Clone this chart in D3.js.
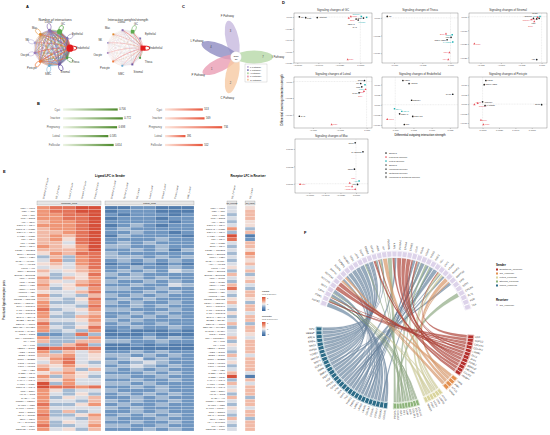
<!DOCTYPE html>
<html><head><meta charset="utf-8">
<script src="https://cdn.jsdelivr.net/npm/d3@7"></script>
<style>
body{margin:0;background:#fff;}
svg{font-family:"Liberation Sans",Arial,sans-serif;}
</style></head>
<body><div id="fig"></div>
<script>
// ---------- A: communication networks ----------
const cellTypes = ["GC","Epithelial","Endothelial","Theca","Stromal","SMC","Pericyte","Oocyte","NK","Mac","Luteal"];
const cellColors = ["#5dab4f","#7d74b3","#e31a1c","#4f9a4a","#6c59a6","#6aaed6","#f07a3a","#9b7bbf","#a79fcf","#e08a2c","#8a6fb5"];
const cellSizes = [2.6,1.3,3.6,1.4,1.4,1.3,1.3,1.1,1.1,1.3,1.4];
// number of interactions, one string per source cell (digits)
const countRows = ["65744353235","43533232124","56966454346","44645343235","45656353236",
  "34534343124","34545353235","21312121112","22323232222","34534343234","45645353345"];
// interaction strength, one string per source cell
const weightRows = ["31511111112","11311111111","42944232224","21511111112","21411211112",
  "11311111111","21311211111","10101011001","11211111111","11211111111","21411111112"];

// ---------- B: overall strength / count per condition ----------
const conditions = ["Cyst","Inactive","Pregnancy","Luteal","Follicular"];
const strengthValues = [0.706,0.772,0.698,0.585,0.654];
const countValues = [553,569,734,391,552];

// ---------- C: pathway petals ----------
const petalLabels = ["F Pathway","L Pathway","I Pathway","P Pathway","C Pathway"];
const petalCounts = [3,4,7,1,2];
const petalColors = ["#c7b9de","#8f8cc2","#b6d8a8","#ea9db4","#f6c9a3"];
const coreCount = 10;

// ---------- D: signaling changes (name, outgoing, incoming, group, shape) ----------
const gcPts = [["MK",-0.0058,0.0003,0,0],["PTN",-0.0052,-0.0012,0,0],["ANGPTL",-0.0041,-0.0010,0,0],
  ["WNT",-0.0009,0.0008,1,1],["BMP",-0.0011,-0.0020,1,1],["NOTCH",0.0001,0.0010,2,2],["EGF",0.0003,-0.0018,0,0],
  ["ncWNT",0.0006,-0.0006,2,2],["SEMA3",-0.0004,-0.0035,0,0],["GAS",-0.0002,-0.0052,0,0],["GDF",-0.0012,-0.0745,1,1]];
const thecaPts = [["MK",-0.0112,0.0004,0,0],["BMP",-0.0008,-0.0045,1,1],["TGFb",0.0003,-0.0048,2,2],
  ["FN1",0.0001,-0.0055,0,0],["COLLAGEN",-0.0006,-0.0062,0,0],["LAMININ",0.0004,-0.0068,2,2],
  ["GDF",-0.0002,-0.0098,1,1],["AMH",-0.0004,-0.0118,1,1]];
const stromalPts = [["SPP1",-0.0004,0.0002,2,2],["PDGF",-0.0010,-0.0004,1,1],["ANGPTL",-0.0020,-0.0012,0,0],
  ["CXCL",-0.0006,-0.0012,0,0],["FN1",-0.0012,-0.0016,0,0],["NOTCH",-0.0025,-0.0022,1,1],
  ["BMP",-0.0018,-0.0035,1,1],["WNT",-0.0165,-0.0200,1,1],["IGF",-0.0012,-0.0315,0,0]];
const lutealPts = [["SPP1",-0.0004,0.0003,0,0],["MK",-0.0011,-0.0006,0,0],["PTN",-0.0009,-0.0016,0,0],
  ["WNT",-0.0003,-0.0010,2,2],["BMP",-0.0002,-0.0024,1,1],["EGF",-0.0005,-0.0030,1,1],
  ["CXCL",-0.0014,-0.0034,0,0],["GAS",-0.0125,-0.0105,0,0],["GDF",-0.0065,-0.0130,1,1]];
const endoPts = [["VEGF",0.0021,0.0120,0,0],["ANGPT",0.0038,0.0105,0,0],["CXCL",0.0158,0.0052,0,0],
  ["NOTCH",0.0045,0.0022,0,0],["EPHA",-0.0002,-0.0020,2,2],["CDH5",0.0018,-0.0033,2,2],
  ["SEMA3",0.0012,-0.0045,0,0],["PECAM1",0.0048,-0.0058,0,0],["TGFb",-0.0022,-0.0072,1,1],["MIF",0.0025,-0.0098,0,0]];
const periPts = [["PDGF",0.0004,0.0125,0,0],["COLLAGEN",0.0002,0.0103,0,0],["ANGPTL",0.0000,0.0012,0,0],
  ["NOTCH",-0.0006,0.0004,1,1],["TGFb",-0.0010,-0.0002,1,1],["LAMININ",0.0003,-0.0008,0,0],
  ["SPP1",0.0072,-0.0003,0,0],["BMP",-0.0002,-0.0085,1,1],["WNT",0.0001,-0.0108,1,1]];
const macPts = [["SPP1",-0.0001,0.00118,0,0],["GALECTIN",0.0009,0.00092,0,0],["CD99",-0.0002,0.00042,0,0],
  ["APP",0.0004,0.00008,2,2],["MIF",0.0002,-0.00002,0,0],["CCL",-0.0008,0.00002,1,1],
  ["CXCL",-0.0005,-0.00008,1,1],["ANNEXIN",-0.0001,-0.00016,1,1],["TNF",-0.0072,-0.00002,1,1]];
const groupNames = ["Shared","Follicular specific","Luteal specific"];
const shapeNames = ["Shared","Incoming specific","Outgoing specific","Incoming & Outgoing specific"];

// ---------- E: prioritized ligand-receptor heatmap ----------
const lrPairs = ["MDK-LRP1","MDK-NCL","PTN-NCL","PTN-SDC2","APP-CD74","COL1A1-CD44","COL1A2-ITGB1","COL4A1-CD44",
  "LAMB1-ITGB1","FN1-CD44","FN1-ITGB1","SPP1-CD44","TGFB1-TGFBR2","BMP4-BMPR2","WNT4-FZD6","INHBA-ACVR2A",
  "AMH-AMHR2","KITLG-KIT","GDF9-BMPR2","BMP15-BMPR1B","IGF1-IGF1R","IGF2-IGF2R","VEGFA-KDR","VEGFA-FLT1",
  "ANGPT1-TEK","ANGPT2-TEK","PDGFB-PDGFRB","PDGFA-PDGFRA","DLL4-NOTCH1","JAG1-NOTCH2","JAG1-NOTCH3","EFNA1-EPHA2",
  "EFNB2-EPHB4","SEMA3A-NRP1","SEMA3C-PLXND1","CXCL12-CXCR4","CCL2-CCR2","TNF-TNFRSF1A","IL6-IL6R","LIF-LIFR",
  "HBEGF-EGFR","AREG-EGFR","EREG-EGFR","NRG1-ERBB3","FGF2-FGFR1","FGF7-FGFR2","HGF-MET","THBS1-CD47",
  "THBS2-CD36","LAMA4-ITGA6","LAMC1-ITGB4","COL6A3-ITGA1","TNC-SDC4","VCAN-TLR2","GAS6-AXL","PROS1-MERTK",
  "NAMPT-INSR","CALM1-PTPRA","GRN-SORT1","PSAP-GPR37","CD99-CD99","HLA-E-KLRC1","MIF-CD74","NECTIN2-TIGIT"];
const follicularCols = ["Endothelial_Follicular","GC_Follicular","Luteal_Follicular","Stromal_Follicular","Theca_Follicular"];
const lutealCols = ["Endothelial_Luteal","Epithelial_Luteal","GC_Luteal","Luteal_Luteal","Stromal_Luteal","Theca_Luteal","SMC_Luteal"];
const receiverCols = ["GC_Follicular","GC_Luteal"];
// LFC level per cell, digits 0 (strong down) .. 9 (strong up)
const follicularLFC = ["78899","78899","77889","77889","67789","77789","67789","66789","67689","67589","66489","76579",
  "66679","57688","36378","47378","56478","45468","64567","53458","73657","65467","74578","63547","54468","73436",
  "64358","73347","74438","83457","74346","73367","64457","83346","74358","73437","22383","73337","63366","33683",
  "98888","73646","66745","57845","46843","65754","74636","56754","73653","65744","93744","98878","75344","74353",
  "73546","74436","83357","74444","73634","83357","74436","73546","83347","74536"];
const lutealLFC = ["1122111","1222111","2122212","1222122","2222212","1232122","2322222","2232212","1322221","2222322",
  "2323222","3322322","2232313","3222222","3332323","2323232","1212121","2232232","2323243","3232222","2332322",
  "3223232","2232243","3322322","2223232","3232322","2323222","3232232","2232322","3322232","2232322","2323232",
  "3232222","2322322","2232232","1211121","1112111","2223232","3322322","1121211","1111111","2232322","3323232",
  "2342322","3234322","2343232","3232322","2223232","3322322","2232232","3323222","2232322","3222322","2323232",
  "2232322","3232232","2322322","3232222","2232322","2323232","3222322","2232232","3322322","2223232"];
const receptorLFC = ["45","46","36","46","35","45","73","36","91","82","46","36","45","37","46","35","46","54","36","63",
  "45","36","64","83","46","36","55","63","46","36","54","36","46","63","36","46","45","64","36","56","46","36","64",
  "46","56","36","46","64","91","36","64","46","56","36","63","46","36","54","46","36","63","46","36","46"];

// ---------- F: ligand-receptor circos ----------
const receptorGenes = ["FGFR2","ITGB1","CD44","SDC4","NOTCH2","NOTCH1","BMPR2","ACVR1","TGFBR1","TGFBR2","FZD6","LRP6",
  "EGFR","ERBB2","IGF1R","INSR","KIT","PDGFRA","NRP1","PLXNA2","EPHA4","EPHB2","CD47","ITGA6","ITGAV","ITGB5","SDC2",
  "NCL","LRP1","PTPRF","AMHR2","BMPR1B","LIFR","IL6ST","CXCR4","FLT1","KDR","TEK"];
const senderNames = ["Endothelial_Follicular","GC_Follicular","Luteal_Follicular","Stromal_Follicular","Theca_Follicular"];
const senderColors = ["#b5302c","#e3904f","#d9d49c","#8db47a","#2d6c88"];
const linkColors = ["#b24a3f","#d99a6c","#cfcc9a","#93ad88","#6f8aa3"];
const endoLigands = ["APP","HSPG2","COL4A1","COL4A2","LAMB1","DLL4","JAG1","EFNB2","SEMA3F","PECAM1","CALM2","IGFBP7"];
const endoTargets = [[28],[1],[1,2],[1,23],[1,23],[4,5],[4,5],[20,21],[18,19],[22],[14],[14,15]];
const gcLigands = ["INHA","AMH","KITLG","INHBA"];
const gcTargets = [[6],[30,31],[16],[7,6]];
const lutLigands = ["APOE","LAMA5","GRN","VCAN","PSAP","NAMPT"];
const lutTargets = [[28],[23,1],[29],[2],[28],[15]];
const stromLigands = ["COL1A1","COL1A2","COL3A1","DCN","LUM","FN1","IGF1","CXCL12","PDGFA"];
const stromTargets = [[1,2,3],[1,2],[1,26],[12],[1],[1,24,25],[14,15],[34],[17]];
const thecaLigands = ["COL6A1","COL6A2","COL6A3","COL5A1","COL5A2","LAMA2","LAMB2","LAMC1","THBS1","THBS2","TNC",
  "SPP1","MDK","PTN","GAS6","PROS1","HGF","FGF7","BMP4","BMP6","GDF15","WNT4","WNT5A","TGFB3","TGFB2","NRG1",
  "EREG","AREG","HBEGF","IGF2"];
const thecaTargets = [[1,2],[1,26],[1,2],[1,3],[2],[1,23],[1,23],[1,23,24],[22,2,3],[22],[3,24],[2,24,25],[27,28,29],
  [27,26,3],[24],[24],[18],[0],[6,31],[6,7,31],[9],[10,11],[10],[8,9],[8,9],[13],[12,13],[12],[12,13],[14,15]];

const W = 550, H = 435;
const deg = Math.PI / 180;
const svg = d3.select("#fig").append("svg").attr("width", W).attr("height", H);
svg.append("rect").attr("width", W).attr("height", H).attr("fill", "#fff");

function panelLabel(x, y, t){
    svg.append("text").attr("x", x).attr("y", y).attr("font-size", 4).attr("font-weight", "bold").text(t);
}

// ===== A =====
panelLabel(26, 8, "A");
function drawNetwork(cx, cy, title, rows, weighted){
    const g = svg.append("g");
    g.append("text").attr("x", cx + 3).attr("y", 21).attr("text-anchor", "middle")
        .attr("font-size", 3.3).attr("fill", "#333").text(title);
    const R = 18;
    const ang = d3.scaleLinear().domain([0, cellTypes.length]).range([25 * deg, 385 * deg]);
    const nodes = cellTypes.map((c, i) => ({
        name: c, a: ang(i), color: cellColors[i],
        x: cx + R * Math.sin(ang(i)), y: cy - R * Math.cos(ang(i))
    }));
    const w = rows.map(r => r.split("").map(Number));
    nodes.forEach((s, i) => nodes.forEach((t, j) => {
        if(i === j || w[i][j] === 0) return;
        const mx = (s.x + t.x) / 2, my = (s.y + t.y) / 2, dx = t.x - s.x, dy = t.y - s.y;
        const k = 0.1;
        g.append("path")
            .attr("d", `M${s.x},${s.y}Q${mx - dy * k},${my + dx * k} ${t.x},${t.y}`)
            .attr("fill", "none")
            .attr("stroke", weighted && i !== 2 ? d3.interpolateRgb(s.color, "#f4d6d6")(0.55) : s.color)
            .attr("stroke-width", weighted ? w[i][j] * 0.2 : w[i][j] * 0.26)
            .attr("stroke-opacity", weighted ? 0.55 : 0.5);
    }));
    nodes.forEach((n, i) => {
        const self = w[i][i];
        if(self > (weighted ? 2 : 0)){
            const lx = cx + (R + 3.5) * Math.sin(n.a), ly = cy - (R + 3.5) * Math.cos(n.a);
            g.append("ellipse").attr("cx", lx).attr("cy", ly).attr("rx", 2).attr("ry", 3.2)
                .attr("transform", `rotate(${n.a / deg},${lx},${ly})`)
                .attr("fill", "none").attr("stroke", n.color).attr("stroke-width", 0.25 + self * 0.08);
        }
        if(weighted){
            g.append("rect").attr("x", n.x - cellSizes[i] * 0.7).attr("y", n.y - cellSizes[i] * 0.7)
                .attr("width", cellSizes[i] * 1.4).attr("height", cellSizes[i] * 1.4).attr("fill", n.color);
        }else{
            g.append("circle").attr("cx", n.x).attr("cy", n.y).attr("r", cellSizes[i]).attr("fill", n.color);
        }
        const lr = R + 8, sx = Math.sin(n.a);
        g.append("text").attr("x", cx + lr * sx + (sx > 0.3 ? -2 : sx < -0.3 ? 2 : 0)).attr("y", cy - lr * Math.cos(n.a) + 1)
            .attr("text-anchor", sx > 0.3 ? "start" : sx < -0.3 ? "end" : "middle")
            .attr("font-size", 2.7).attr("fill", "#333").text(n.name);
    });
}
drawNetwork(52, 48, "Number of interactions", countRows, false);
drawNetwork(125, 48, "Interaction weights/strength", weightRows, true);

// ===== B =====
panelLabel(37, 105, "B");
const defs = svg.append("defs");
function gradient(id, c0, c1){
    const lg = defs.append("linearGradient").attr("id", id);
    lg.append("stop").attr("offset", "0%").attr("stop-color", c0);
    lg.append("stop").attr("offset", "100%").attr("stop-color", c1);
}
gradient("gGreen", "#edf4e4", "#4e8a2c");
gradient("gRed", "#fde6dc", "#e8553b");
const barY = d3.scalePoint().domain(conditions).range([109.5, 145]);
function drawBars(vals, x, fill, fmt){
    const g = svg.append("g");
    conditions.forEach((c, i) => {
        g.append("text").attr("x", x.range()[0] - 3).attr("y", barY(c) + 1).attr("text-anchor", "end")
            .attr("font-size", 2.8).attr("fill", "#555").text(c);
        g.append("rect").attr("x", x.range()[0]).attr("y", barY(c) - 1.1)
            .attr("width", x(vals[i]) - x.range()[0]).attr("height", 2.2).attr("fill", fill);
        g.append("text").attr("x", x(vals[i]) + 1.5).attr("y", barY(c) + 0.5)
            .attr("font-size", 2.6).attr("fill", "#333").text(fmt(vals[i]));
    });
}
drawBars(strengthValues, d3.scaleLinear().domain([0, 0.8]).range([63, 125]), "url(#gGreen)", d3.format(".3f"));
drawBars(countValues, d3.scaleLinear().domain([200, 760]).range([165, 225]), "url(#gRed)", d3.format("d"));

// ===== C =====
panelLabel(182, 8, "C");
const petalAngles = [-12, -68, 90, 244, 192];
const pc = {x: 236, y: 57};
const gc = svg.append("g");
petalLabels.forEach((p, i) => {
    const a = petalAngles[i] * deg, L = 18;
    const ex = pc.x + L * Math.sin(a), ey = pc.y - L * Math.cos(a);
    gc.append("ellipse").attr("cx", ex).attr("cy", ey).attr("rx", 6.5).attr("ry", 19)
        .attr("transform", `rotate(${petalAngles[i]},${ex},${ey})`)
        .attr("fill", petalColors[i]).attr("fill-opacity", 0.8);
    const nx = pc.x + 27 * Math.sin(a), ny = pc.y - 27 * Math.cos(a);
    gc.append("text").attr("x", nx).attr("y", ny + 1).attr("text-anchor", "middle")
        .attr("font-size", 2.6).attr("fill", "#444").text(petalCounts[i]);
    const tx = pc.x + 42 * Math.sin(a), ty = pc.y - 42 * Math.cos(a);
    gc.append("text").attr("x", tx).attr("y", ty + 1).attr("text-anchor", "middle")
        .attr("font-size", 2.8).attr("fill", "#333").text(p);
});
gc.append("circle").attr("cx", pc.x).attr("cy", pc.y).attr("r", 5.5).attr("fill", "#fff").attr("stroke", "#bbb").attr("stroke-width", 0.2);
gc.append("text").attr("x", pc.x).attr("y", pc.y - 0.3).attr("text-anchor", "middle").attr("font-size", 2.4).text("Core");
gc.append("text").attr("x", pc.x).attr("y", pc.y + 2.6).attr("text-anchor", "middle").attr("font-size", 2.4).text(coreCount);
gc.append("rect").attr("x", 245).attr("y", 64).attr("width", 22).attr("height", 18)
    .attr("fill", "#fff").attr("stroke", "#999").attr("stroke-width", 0.25);
petalLabels.forEach((p, i) => {
    gc.append("rect").attr("x", 247).attr("y", 66 + i * 3.2).attr("width", 1.8).attr("height", 1.8).attr("fill", petalColors[i]);
    gc.append("text").attr("x", 250).attr("y", 67.7 + i * 3.2).attr("font-size", 2.4).attr("fill", "#333").text(p);
});

// ===== D =====
panelLabel(282, 4, "D");
const groupColors = ["#222", "#e8505b", "#1fb1b3"];
const shapeTypes = [d3.symbolCircle, d3.symbolTriangle, d3.symbolSquare, d3.symbolDiamond];
function drawScatter(box, title, pts){
    const [x0, y0, x1, y1] = box;
    const g = svg.append("g");
    const xe = d3.extent(pts.map(d => d[1]).concat([0])), ye = d3.extent(pts.map(d => d[2]).concat([0]));
    const px = (xe[1] - xe[0]) * 0.08, py = (ye[1] - ye[0]) * 0.08;
    const x = d3.scaleLinear().domain([xe[0] - px, xe[1] + px]).range([x0, x1]);
    const y = d3.scaleLinear().domain([ye[0] - py, ye[1] + py]).range([y1, y0]);
    g.append("text").attr("x", (x0 + x1) / 2).attr("y", y0 - 2).attr("text-anchor", "middle")
        .attr("font-size", 2.9).attr("fill", "#333").text(title);
    g.append("rect").attr("x", x0).attr("y", y0).attr("width", x1 - x0).attr("height", y1 - y0)
        .attr("fill", "none").attr("stroke", "#444").attr("stroke-width", 0.3);
    g.append("line").attr("x1", x(0)).attr("x2", x(0)).attr("y1", y0).attr("y2", y1)
        .attr("stroke", "#bbb").attr("stroke-width", 0.25).attr("stroke-dasharray", "1,0.6");
    g.append("line").attr("x1", x0).attr("x2", x1).attr("y1", y(0)).attr("y2", y(0))
        .attr("stroke", "#bbb").attr("stroke-width", 0.25).attr("stroke-dasharray", "1,0.6");
    const fx = (xe[1] - xe[0]) < 0.01 ? d3.format(".4f") : d3.format(".3f");
    const fy = (ye[1] - ye[0]) < 0.01 ? d3.format(".4f") : d3.format(".3f");
    const ax = g.append("g").attr("transform", `translate(0,${y1})`)
        .call(d3.axisBottom(x).ticks(4).tickSize(1).tickPadding(0.8).tickFormat(fx));
    const ay = g.append("g").attr("transform", `translate(${x0},0)`)
        .call(d3.axisLeft(y).ticks(4).tickSize(1).tickPadding(0.8).tickFormat(fy));
    [ax, ay].forEach(a => {
        a.select(".domain").remove();
        a.selectAll("line").attr("stroke", "#444").attr("stroke-width", 0.25);
        a.selectAll("text").attr("font-size", 2.3).attr("fill", "#444");
    });
    // simple label dodging inside crowded clusters
    const placed = [];
    pts.forEach(d => {
        const cx = x(d[1]), cy = y(d[2]);
        g.append("path").attr("d", d3.symbol(shapeTypes[d[4]], 2.2)())
            .attr("transform", `translate(${cx},${cy})`).attr("fill", groupColors[d[3]]);
        const right = cx < (x0 + x1) / 2 + 20;
        const wd = d[0].length * 1.25 + 0.6, lx = right ? cx + 1.4 : cx - 1.4 - wd;
        let ly = cy + 0.8;
        for(const off of [0, -2.4, 2.4, -4.8, 4.8, -7.2, 7.2]){
            const t = cy + 0.8 + off;
            if(!placed.some(b => lx < b.x + b.w && b.x < lx + wd && t - 2 < b.y && b.y - 2 < t)){ ly = t; break; }
        }
        placed.push({x: lx, y: ly, w: wd});
        g.append("text").attr("x", right ? lx : lx + wd).attr("y", ly)
            .attr("text-anchor", right ? "start" : "end")
            .attr("font-size", 2.1).attr("fill", groupColors[d[3]]).text(d[0]);
    });
}
drawScatter([294, 13, 372, 63], "Signaling changes of GC", gcPts);
drawScatter([382, 13, 458, 63], "Signaling changes of Theca", thecaPts);
drawScatter([469, 13, 547, 63], "Signaling changes of Stromal", stromalPts);
drawScatter([294, 77, 372, 128], "Signaling changes of Luteal", lutealPts);
drawScatter([382, 77, 458, 128], "Signaling changes of Endothelial", endoPts);
drawScatter([469, 77, 547, 128], "Signaling changes of Pericyte", periPts);
drawScatter([295, 139, 368, 193], "Signaling changes of Mac", macPts);
svg.append("text").attr("x", 420).attr("y", 136).attr("text-anchor", "middle").attr("font-size", 2.9)
    .text("Differential outgoing interaction strength");
svg.append("text").attr("transform", "translate(283,100) rotate(-90)").attr("text-anchor", "middle")
    .attr("font-size", 2.9).text("Differential incoming interaction strength");
const legD = svg.append("g");
groupNames.concat(shapeNames).forEach((t, i) => {
    const yy = 153 + i * 4;
    const isGroup = i < 3;
    legD.append("path").attr("d", d3.symbol(isGroup ? d3.symbolCircle : shapeTypes[i - 3], 2.2)())
        .attr("transform", `translate(386,${yy})`).attr("fill", isGroup ? groupColors[i] : "#555");
    legD.append("text").attr("x", 389).attr("y", yy + 0.9).attr("font-size", 2.4).attr("fill", "#333").text(t);
});

// ===== E =====
panelLabel(3, 173, "E");
const lfcColor = d3.scaleLinear().domain([0, 2, 4.5, 7, 9])
    .range(["#35639a", "#7096c0", "#f3efee", "#ef9677", "#d6503a"]);
const rowY = d3.scaleBand().domain(lrPairs).range([206, 431]);
function drawHeat(cols, vals, x, strip){
    const g = svg.append("g");
    lrPairs.forEach((p, r) => cols.forEach((c, k) => {
        g.append("rect").attr("x", x(c)).attr("y", rowY(p)).attr("width", x.bandwidth())
            .attr("height", rowY.bandwidth()).attr("fill", lfcColor(+vals[r][k]))
            .attr("stroke", "#fff").attr("stroke-width", 0.15);
    }));
    cols.forEach(c => {
        g.append("text").attr("transform", `translate(${x(c) + x.bandwidth() / 2 + 0.8},199) rotate(-78)`)
            .attr("font-size", 2.3).attr("fill", "#333").text(c);
    });
    const [s0, s1] = x.range();
    g.append("rect").attr("x", s0).attr("y", 201).attr("width", s1 - s0).attr("height", 4)
        .attr("fill", "#e6e6e6").attr("stroke", "#777").attr("stroke-width", 0.25);
    g.append("text").attr("x", (s0 + s1) / 2).attr("y", 204).attr("text-anchor", "middle")
        .attr("font-size", 2.4).text(strip);
}
drawHeat(follicularCols, follicularLFC, d3.scaleBand().domain(follicularCols).range([37, 101]), "Follicular_cells");
drawHeat(lutealCols, lutealLFC, d3.scaleBand().domain(lutealCols).range([105, 194]), "Luteal_cells");
const recX = d3.scaleBand().domain(receiverCols).range([227, 255]).paddingInner(0.45);
lrPairs.forEach((p, r) => receiverCols.forEach((c, k) => {
    svg.append("rect").attr("x", recX(c)).attr("y", rowY(p)).attr("width", recX.bandwidth())
        .attr("height", rowY.bandwidth()).attr("fill", lfcColor(+receptorLFC[r][k]))
        .attr("stroke", "#fff").attr("stroke-width", 0.15);
}));
receiverCols.forEach(c => {
    svg.append("text").attr("transform", `translate(${recX(c) + recX.bandwidth() / 2 + 0.8},199) rotate(-78)`)
        .attr("font-size", 2.3).attr("fill", "#333").text(c);
    svg.append("rect").attr("x", recX(c)).attr("y", 201).attr("width", recX.bandwidth()).attr("height", 4)
        .attr("fill", "#e6e6e6").attr("stroke", "#777").attr("stroke-width", 0.25);
    svg.append("text").attr("x", recX(c) + recX.bandwidth() / 2).attr("y", 204).attr("text-anchor", "middle")
        .attr("font-size", 1.8).text(c);
});
lrPairs.forEach(p => {
    svg.append("text").attr("x", 35).attr("y", rowY(p) + rowY.bandwidth() * 0.8).attr("text-anchor", "end")
        .attr("font-size", 2.3).attr("fill", "#333").text(p.replace("-", " \u2014 "));
    svg.append("text").attr("x", 225).attr("y", rowY(p) + rowY.bandwidth() * 0.8).attr("text-anchor", "end")
        .attr("font-size", 2.3).attr("fill", "#333").text(p.replace("-", " \u2014 "));
});
svg.append("text").attr("x", 110).attr("y", 177).attr("text-anchor", "middle").attr("font-size", 2.9)
    .attr("font-weight", "bold").text("Ligand LFC in Sender");
svg.append("text").attr("x", 248).attr("y", 177).attr("text-anchor", "middle").attr("font-size", 2.9)
    .attr("font-weight", "bold").text("Receptor LFC in Receiver");
svg.append("text").attr("transform", "translate(5,300) rotate(-90)").attr("text-anchor", "middle")
    .attr("font-size", 2.9).text("Prioritized ligand-receptor pairs");
const gradientV = defs.append("linearGradient").attr("id", "gLfc").attr("x1", 0).attr("x2", 0).attr("y1", 0).attr("y2", 1);
[9, 7, 4.5, 2, 0].forEach((v, i) => gradientV.append("stop").attr("offset", `${i * 25}%`).attr("stop-color", lfcColor(v)));
[["Ligand", "LFC in Sender", 292], ["Receptor", "LFC in Receiver", 317]].forEach(([a, b, y0]) => {
    svg.append("text").attr("x", 262).attr("y", y0).attr("font-size", 2.4).text(a);
    svg.append("text").attr("x", 262).attr("y", y0 + 3).attr("font-size", 2.2).attr("fill", "#555").text(b);
    svg.append("rect").attr("x", 262).attr("y", y0 + 5).attr("width", 3.5).attr("height", 14).attr("fill", "url(#gLfc)");
    ["1", "0", "-1"].forEach((t, i) => svg.append("text").attr("x", 267).attr("y", y0 + 7 + i * 5.5)
        .attr("font-size", 2.2).attr("fill", "#444").text(t));
});

// ===== F =====
panelLabel(304, 234, "F");
const fc = {x: 395, y: 330};
const rLink = 72, rB0 = 73.5, rB1 = 78.5;
const segments = [
    {genes: receptorGenes, a0: -71, a1: 74, color: "#ddd3ea"},
    {genes: endoLigands, targets: endoTargets, a0: 94, a1: 125, s: 0},
    {genes: gcLigands, targets: gcTargets, a0: 128, a1: 139, s: 1},
    {genes: lutLigands, targets: lutTargets, a0: 143, a1: 157, s: 2},
    {genes: stromLigands, targets: stromTargets, a0: 162, a1: 181, s: 3},
    {genes: thecaLigands, targets: thecaTargets, a0: 186, a1: 272, s: 4}
];
const gf = svg.append("g").attr("transform", `translate(${fc.x},${fc.y})`);
const arc = d3.arc();
segments.forEach(seg => {
    seg.band = d3.scaleBand().domain(d3.range(seg.genes.length)).range([seg.a0 * deg, seg.a1 * deg]).paddingInner(0.18);
    if(seg.color === undefined) seg.color = senderColors[seg.s];
});
// gather links
const links = [];
segments.slice(1).forEach(seg => seg.targets.forEach((ts, i) => ts.forEach((t, k) => {
    links.push({seg, i, k, n: ts.length, t});
})));
const recCount = receptorGenes.map((g, j) => links.filter(l => l.t === j).length);
const recUsed = receptorGenes.map(() => 0);
const recBand = segments[0].band;
const ribbon = d3.ribbon().radius(rLink);
links.forEach(l => {
    const b = l.seg.band, a = b(l.i), w = b.bandwidth() / l.n;
    l.source = {startAngle: a + w * l.k, endAngle: a + w * (l.k + 1)};
    const rw = recBand.bandwidth() / Math.max(1, recCount[l.t]), ra = recBand(l.t) + rw * recUsed[l.t]++;
    l.target = {startAngle: ra, endAngle: ra + rw};
});
[4, 3, 2, 1, 0].forEach(s => links.filter(l => l.seg.s === s).forEach(l => {
    gf.append("path").attr("d", ribbon(l)).attr("fill", linkColors[s]).attr("fill-opacity", 0.72)
        .attr("stroke", d3.color(linkColors[s]).darker(0.6)).attr("stroke-width", 0.08);
}));
segments.forEach(seg => {
    gf.append("path").attr("d", arc({innerRadius: rB0 - 0.6, outerRadius: rB1 + 0.6,
            startAngle: seg.a0 * deg - 0.004, endAngle: seg.a1 * deg + 0.004}))
        .attr("fill", "#fff").attr("stroke", seg.color).attr("stroke-width", 0.35);
    seg.genes.forEach((gname, i) => {
        const a0 = seg.band(i), a1 = a0 + seg.band.bandwidth(), am = (a0 + a1) / 2;
        gf.append("path").attr("d", arc({innerRadius: rB0, outerRadius: rB1, startAngle: a0, endAngle: a1}))
            .attr("fill", seg.color);
        const rot = am / deg - 90, flip = am / deg > 180 || am < 0;
        gf.append("text")
            .attr("transform", `rotate(${rot}) translate(80.5,0)${flip ? " rotate(180)" : ""}`)
            .attr("text-anchor", flip ? "end" : "start").attr("dy", "0.35em")
            .attr("font-size", 2.5).attr("fill", "#333").text(gname);
    });
});
const legF = svg.append("g");
legF.append("text").attr("x", 496).attr("y", 266).attr("font-size", 2.9).attr("font-weight", "bold").text("Sender");
senderNames.forEach((s, i) => {
    legF.append("rect").attr("x", 496).attr("y", 268.5 + i * 4).attr("width", 2).attr("height", 2).attr("fill", senderColors[i]);
    legF.append("text").attr("x", 499.5).attr("y", 270.3 + i * 4).attr("font-size", 2.4).attr("fill", "#333").text(s);
});
legF.append("text").attr("x", 496).attr("y", 301).attr("font-size", 2.9).attr("font-weight", "bold").text("Receiver");
legF.append("rect").attr("x", 496).attr("y", 304).attr("width", 2).attr("height", 2).attr("fill", segments[0].color);
legF.append("text").attr("x", 499.5).attr("y", 305.8).attr("font-size", 2.4).attr("fill", "#333").text("GC_Follicular");
</script></body></html>
